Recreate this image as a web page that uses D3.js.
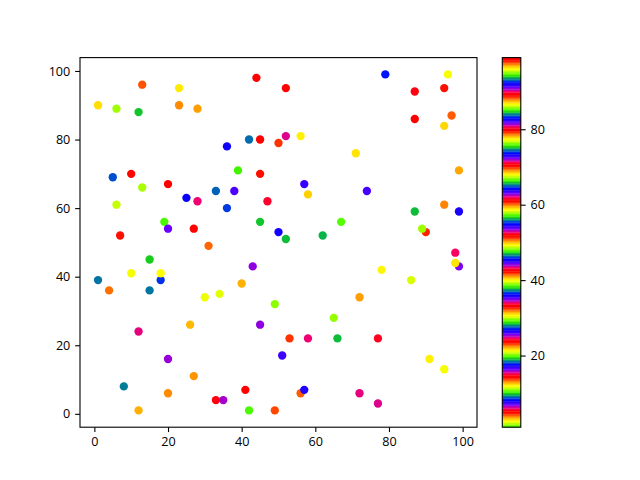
<!DOCTYPE html>
<html>
<head>
<meta charset="utf-8">
<script src="https://cdn.jsdelivr.net/npm/d3@7"></script>
<style>
  html, body { margin: 0; padding: 0; background: #fff; }
  svg { display: block; }
  text { font-family: "Open Sans", "Noto Sans", sans-serif; font-size: 12.6px; fill: #000; }
</style>
</head>
<body>
<svg id="chart" width="640" height="480"></svg>
<script>
// ---- data ----
const xValues = [13,23,44,52,1,6,12,23,28,36,42,45,50,52,5,10,13,20,39,45,25,28,33,38,36,47,6,19,20,27,45,50,52,7,31,79,96,87,95,87,97,95,56,71,99,57,58,74,87,95,99,67,62,90,89,15,43,10,18,18,1,4,15,40,30,34,49,45,26,12,20,51,27,8,20,41,33,35,12,42,49,98,99,98,78,86,72,65,53,58,66,77,91,95,56,57,72,77];
const yValues = [96,95,98,95,90,89,88,90,89,78,80,80,79,81,69,70,66,67,71,70,63,62,65,65,60,62,61,56,54,54,56,53,51,52,49,99,99,94,95,86,87,84,81,76,71,67,64,65,59,61,59,56,52,53,54,45,43,41,39,41,39,36,36,38,34,35,32,26,26,24,16,17,11,8,6,7,4,4,1,1,1,47,43,44,42,39,34,28,22,22,22,22,16,13,6,7,6,3];
const cValues = [51,87,99,33,31,58,66,32,41,36,65,80,14,53,9,61,30,5,57,89,8,62,93,54,18,15,86,29,91,52,19,64,94,42,60,83,40,24,89,80,79,3,68,59,69,17,22,26,47,4,92,1,75,98,11,38,16,40,46,12,84,88,37,97,21,49,67,63,78,34,44,45,13,56,32,52,71,72,50,76,23,90,7,59,96,77,41,39,14,62,47,43,68,40,79,73,34,6];
const xTicks = [0,20,40,60,80,100];
const yTicks = [0,20,40,60,80,100];
const cTicks = [20,40,60,80];

// ---- prism_r colormap (256-entry lookup like matplotlib) ----
function prism(v) {
  const a = v * 20.9;
  const cl = t => Math.max(0, Math.min(1, t));
  const r = cl(0.75 * Math.sin((a + 0.25) * Math.PI) + 0.67);
  const g = cl(0.75 * Math.sin((a - 0.25) * Math.PI) + 0.33);
  const b = cl(-1.1 * Math.sin(a * Math.PI));
  return d3.rgb(r * 255, g * 255, b * 255).toString();
}
const N = 256;
const lut = d3.range(N).map(i => prism(1 - i / (N - 1)));
function cmap(u) {
  let i = Math.floor(u * N);
  if (i < 0) i = 0;
  if (i > N - 1) i = N - 1;
  return lut[i];
}

const svg = d3.select("#chart");
const L = 80, R = 477, T = 57.6, B = 427.2;
const tick = 4.86, pad = 4.86;

const xExt = d3.extent(xValues), yExt = d3.extent(yValues), cExt = d3.extent(cValues);
const xm = (xExt[1] - xExt[0]) * 0.05, ym = (yExt[1] - yExt[0]) * 0.05;
const x = d3.scaleLinear().domain([xExt[0] - xm, xExt[1] + xm]).range([L, R]);
const y = d3.scaleLinear().domain([yExt[0] - ym, yExt[1] + ym]).range([B, T]);
const cNorm = d3.scaleLinear().domain(cExt).range([0, 1]);

// points
svg.append("g").selectAll("circle")
  .data(xValues.map((v, i) => ({ x: v, y: yValues[i], c: cValues[i] })))
  .join("circle")
  .attr("cx", d => x(d.x))
  .attr("cy", d => y(d.y))
  .attr("r", 4.17)
  .attr("fill", d => cmap(cNorm(d.c)));

// axes
const xAxis = d3.axisBottom(x).tickValues(xTicks).tickSize(tick).tickSizeOuter(0).tickPadding(pad);
const yAxis = d3.axisLeft(y).tickValues(yTicks).tickSize(tick).tickSizeOuter(0).tickPadding(pad);
const gx = svg.append("g").attr("transform", `translate(0,${B})`).call(xAxis);
const gy = svg.append("g").attr("transform", `translate(${L},0)`).call(yAxis);
[gx, gy].forEach(g => {
  g.select(".domain").remove();
  g.selectAll("line").attr("stroke", "#000").attr("stroke-width", 1.1);
  g.selectAll("text").attr("font-size", null).attr("font-family", null).style("fill", "#000");
});
svg.append("rect").attr("x", L).attr("y", T).attr("width", R - L).attr("height", B - T)
  .attr("fill", "none").attr("stroke", "#000").attr("stroke-width", 1.1);

// colorbar
const CL = 502.3, CR = 520.8;
const cy = d3.scaleLinear().domain(cExt).range([B, T]);
const bands = d3.range(N);
const step = (cExt[1] - cExt[0]) / N;
svg.append("g").selectAll("rect")
  .data(bands)
  .join("rect")
  .attr("x", CL)
  .attr("width", CR - CL)
  .attr("y", j => cy(cExt[0] + (j + 1) * step))
  .attr("height", j => cy(cExt[0] + j * step) - cy(cExt[0] + (j + 1) * step) + 0.3)
  .attr("fill", j => lut[j]);
const cAxis = d3.axisRight(cy).tickValues(cTicks).tickSize(tick).tickSizeOuter(0).tickPadding(pad);
const gc = svg.append("g").attr("transform", `translate(${CR},0)`).call(cAxis);
gc.select(".domain").remove();
gc.selectAll("line").attr("stroke", "#000").attr("stroke-width", 1.1);
gc.selectAll("text").attr("font-size", null).attr("font-family", null).style("fill", "#000");
svg.append("rect").attr("x", CL).attr("y", T).attr("width", CR - CL).attr("height", B - T)
  .attr("fill", "none").attr("stroke", "#000").attr("stroke-width", 1.1);
</script>
</body>
</html>
